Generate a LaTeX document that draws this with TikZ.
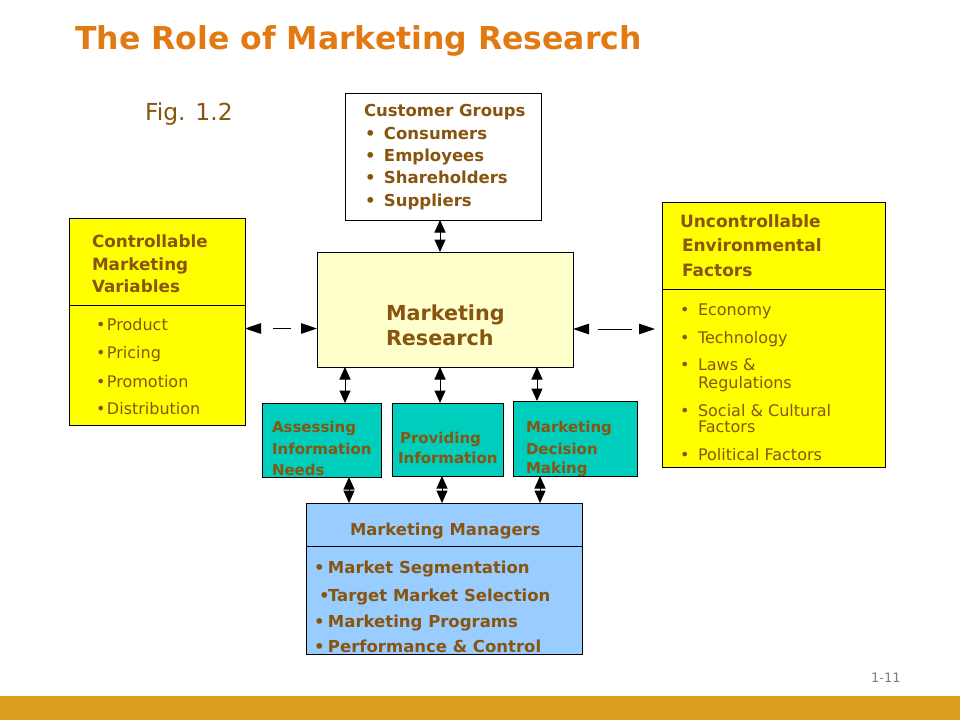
\documentclass[tikz,border=0pt]{standalone}
\usepackage{fontspec}
\setmainfont{DejaVu Sans}
\usetikzlibrary{arrows.meta}
\definecolor{titleor}{RGB}{226,122,20}
\definecolor{brn}{RGB}{135,85,15}
\definecolor{yel}{RGB}{255,255,0}
\definecolor{cream}{RGB}{255,255,204}
\definecolor{tealbox}{RGB}{0,206,188}
\definecolor{lblue}{RGB}{153,204,255}
\definecolor{goldbar}{RGB}{220,160,30}
\definecolor{pgnum}{RGB}{125,125,125}
\begin{document}
\begin{tikzpicture}[x=1pt,y=-1pt,
  box/.style={draw=black,line width=0.9pt,inner sep=0pt,outer sep=0pt,anchor=north west},
  txt/.style={anchor=base west,inner sep=0pt,outer sep=0pt,text=brn},
  bt/.style={txt,font=\bfseries\fontsize{#1}{#1}\selectfont},
  rt/.style={txt,font=\fontsize{#1}{#1}\selectfont},
  dbl/.style={{Triangle[length=12.5pt,width=11pt]}-{Triangle[length=12.5pt,width=11pt]},line width=1pt},
  hdbl/.style={{Triangle[length=16pt,width=10.5pt]}-{Triangle[length=16pt,width=10.5pt]},line width=1pt},
  divider/.style={line width=0.9pt}
]
\useasboundingbox (0,0) rectangle (960,720);
\fill[white] (0,0) rectangle (960,720);
\fill[goldbar] (0,696) rectangle (960,720);

% title
\node[anchor=base west,inner sep=0pt,text=titleor,font=\bfseries\fontsize{31.5}{32}\selectfont] (title) at (75,49) {The Role of Marketing Research};
\node[rt=23.4] (fig) at (145,120) {Fig. 1.2};

% boxes
\node[box,fill=white,minimum width=196pt,minimum height=127pt] (cust) at (345,93) {};
\node[box,fill=yel,minimum width=176pt,minimum height=207pt] (ctrl) at (69,218) {};
\node[box,fill=cream,minimum width=256pt,minimum height=115pt] (res) at (317,252) {};
\node[box,fill=yel,minimum width=223pt,minimum height=265pt] (unc) at (662,202) {};
\node[box,fill=tealbox,minimum width=119pt,minimum height=74pt] (ass) at (262,403) {};
\node[box,fill=tealbox,minimum width=111pt,minimum height=73pt] (prov) at (392,403) {};
\node[box,fill=tealbox,minimum width=124pt,minimum height=75pt] (dec) at (513,401) {};
\node[box,fill=lblue,minimum width=276pt,minimum height=151pt] (mgr) at (306,503) {};

% dividers
\draw[divider] ([yshift=-87pt]ctrl.north west) -- ([yshift=-87pt]ctrl.north east);
\draw[divider] ([yshift=-87pt]unc.north west) -- ([yshift=-87pt]unc.north east);
\draw[divider] ([yshift=-43pt]mgr.north west) -- ([yshift=-43pt]mgr.north east);

% customer groups
\node[bt=16.5] (cg0) at (364,116) {Customer Groups};
\node[bt=16.5] (cg1) at (365,139) {\makebox[19pt][l]{•}Consumers};
\node[bt=16.5] (cg2) at (365,161) {\makebox[19pt][l]{•}Employees};
\node[bt=16.5] (cg3) at (365,183) {\makebox[19pt][l]{•}Shareholders};
\node[bt=16.5] (cg4) at (365,206) {\makebox[19pt][l]{•}Suppliers};

% controllable
\node[bt=16.8] (cv1) at (92,247) {Controllable};
\node[bt=16.8] (cv2) at (92,270) {Marketing};
\node[bt=16.8] (cv3) at (92,292) {Variables};
\node[rt=16] (ci1) at (96,330) {\makebox[11pt][l]{•}Product};
\node[rt=16] (ci2) at (96,358) {\makebox[11pt][l]{•}Pricing};
\node[rt=16] (ci3) at (96,387) {\makebox[11pt][l]{•}Promotion};
\node[rt=16] (ci4) at (96,414) {\makebox[11pt][l]{•}Distribution};

% marketing research
\node[bt=20.7] (mr1) at (386,320) {Marketing};
\node[bt=20.7] (mr2) at (386,345) {Research};

% uncontrollable
\node[bt=17] (uh1) at (680,227) {Uncontrollable};
\node[bt=17] (uh2) at (682,251) {Environmental};
\node[bt=17] (uh3) at (682,276) {Factors};
\node[rt=16] (ui1) at (680,315) {\makebox[18pt][l]{•}Economy};
\node[rt=16] (ui2) at (680,343) {\makebox[18pt][l]{•}Technology};
\node[rt=16] (ui3) at (680,370) {\makebox[18pt][l]{•}Laws \&};
\node[rt=16] (ui3b) at (698,388) {Regulations};
\node[rt=16] (ui4) at (680,416) {\makebox[18pt][l]{•}Social \& Cultural};
\node[rt=16] (ui4b) at (698,432) {Factors};
\node[rt=16] (ui5) at (680,460) {\makebox[18pt][l]{•}Political Factors};

% teal boxes
\node[bt=15] (a1) at (272,432) {Assessing};
\node[bt=15] (a2) at (272,454) {Information};
\node[bt=15] (a3) at (272,475) {Needs};
\node[bt=15] (p1) at (400,443) {Providing};
\node[bt=15] (p2) at (398,463) {Information};
\node[bt=15] (d1) at (526,432) {Marketing};
\node[bt=15] (d2) at (526,454) {Decision};
\node[bt=15] (d3) at (526,473) {Making};

% managers
\node[bt=16.4] (mm0) at (350,535) {Marketing Managers};
\node[bt=16.5] (mm1) at (314,573) {\makebox[14pt][l]{•}Market Segmentation};
\node[bt=16.5] (mm2) at (319,601) {\makebox[9pt][l]{•}Target Market Selection};
\node[bt=16.5] (mm3) at (314,627) {\makebox[14pt][l]{•}Marketing Programs};
\node[bt=16.5] (mm4) at (314,652) {\makebox[14pt][l]{•}Performance \& Control};

% page number
\node[anchor=base west,inner sep=0pt,text=pgnum,font=\fontsize{13}{13}\selectfont] (pg) at (871,682) {1-11};

% vertical connectors
\draw[dbl] ([xshift=-3pt]cust.south) -- ([xshift=-3pt]cust.south |- res.north);
\draw[dbl] ([xshift=23.5pt]ass.north |- res.south) -- ([xshift=23.5pt]ass.north);
\draw[dbl] ([xshift=-7.5pt]prov.north |- res.south) -- ([xshift=-7.5pt]prov.north);
\draw[dbl] ([xshift=-38pt]dec.north |- res.south) -- ([xshift=-38pt]dec.north);
\draw[dbl] ([xshift=27.5pt]ass.south) -- ([xshift=27.5pt]ass.south |- mgr.north);
\draw[dbl] ([xshift=-5.5pt]prov.south) -- ([xshift=-5.5pt]prov.south |- mgr.north);
\draw[dbl] ([xshift=-35pt]dec.south) -- ([xshift=-35pt]dec.south |- mgr.north);

% horizontal connectors
\draw[hdbl,dash pattern=on 0pt off 12pt on 18pt off 100pt] ([yshift=-7pt]ctrl.east) -- ([yshift=-7pt]ctrl.east -| res.west);
\draw[hdbl,shorten >=7pt,dash pattern=on 0pt off 9pt on 34pt off 100pt] ([yshift=5.5pt]unc.west -| res.east) -- ([yshift=5.5pt]unc.west);
\end{tikzpicture}
\end{document}
